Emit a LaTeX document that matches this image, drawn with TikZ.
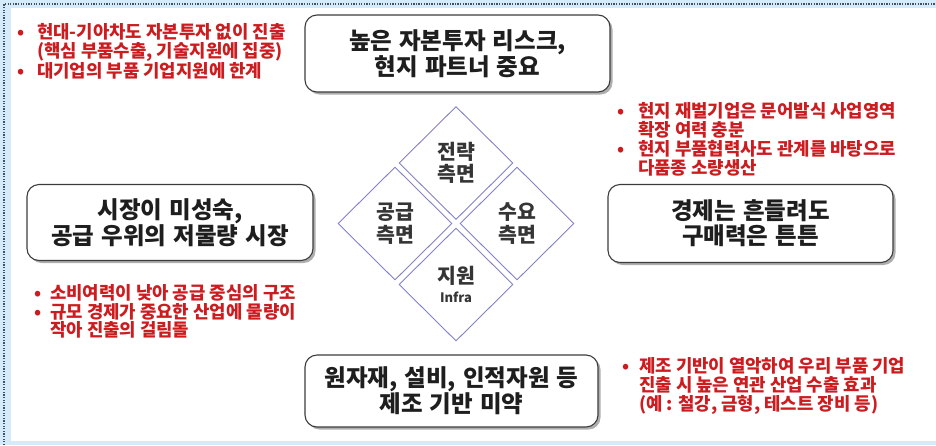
\documentclass[tikz,border=0pt]{standalone}
\usepackage{fontspec}
\setmainfont{Noto Sans CJK KR}
\usetikzlibrary{shapes.geometric,shadows}
\definecolor{bgblue}{RGB}{212,235,251}
\definecolor{redtext}{RGB}{205,28,32}
\definecolor{boxline}{RGB}{60,60,60}
\definecolor{boxtext}{RGB}{30,30,30}
\definecolor{diacol}{RGB}{130,130,200}
\definecolor{dottcol}{RGB}{70,80,90}
\newcommand\bulx[1]{\makebox[#1][l]{•}}
\newcommand\widesp{\spaceskip=0.3em plus 0.1em\relax}
\tikzset{
  mainbox/.style={draw=boxline, line width=1.1pt, rounded corners=12pt, fill=white,
    drop shadow={shadow xshift=2.5pt, shadow yshift=-2.5pt, opacity=0.45, fill=black!70},
    align=center, inner sep=0pt, text=boxtext,
    font=\bfseries\fontsize{23.5}{25}\selectfont\widesp},
  diabox/.style={diamond, draw=diacol, line width=0.9pt, minimum width=114pt,
    minimum height=113pt, inner sep=0pt, align=center, text=boxtext!90,
    font=\bfseries\fontsize{20.5}{22.5}\selectfont},
  redblock/.style={anchor=west, align=left, inner sep=0pt, text=redtext,
    font=\bfseries\fontsize{17.8}{18.8}\selectfont},
  dotline/.style={draw=dottcol, line width=1.3pt, dash pattern=on 1.3pt off 1.3pt}
}
\begin{document}
\begin{tikzpicture}[x=1pt,y=-1pt]
\useasboundingbox (0,0) rectangle (936,445);
\fill[bgblue] (0,0) rectangle (936,445);
\fill[white] (11,8) rectangle (936,441);
\coordinate (d0) at (4,445);
\coordinate (d1) at (4,4);
\coordinate (d2) at (936,4);
\draw[dotline] (d0) -- (d1) -- (d2);

% main boxes
\node[mainbox, minimum width=305pt, minimum height=77pt] (risk) at (457.5,53.5)
  {높은 자본투자 리스크,\\현지 파트너 중요};
\node[mainbox, minimum width=286pt, minimum height=76pt] (market) at (170,222.5)
  {시장이 미성숙,\\공급 우위의 저물량 시장};
\node[mainbox, minimum width=285pt, minimum height=78pt] (economy) at (750.5,223.5)
  {경제는 흔들려도\\구매력은 튼튼};
\node[mainbox, minimum width=293pt, minimum height=72pt] (base) at (451.5,391)
  {원자재, 설비, 인적자원 등\\제조 기반 미약};

% diamonds
\node[diabox] (strategy) at (456,163) {전략\\측면};
\node[diabox] (supply) at (395,223.5) {공급\\측면};
\node[diabox] (demand) at (517,223.5) {수요\\측면};
\node[diabox] (support) at (456,284.5) {지원\\[-3pt]{\fontsize{13}{14}\selectfont Infra}};

% red notes
\node[redblock] (note1) at (17,51.7)
  {\bulx{20pt}현대-기아차도 자본투자 없이 진출\\
   \hspace*{20pt}(핵심 부품수출, 기술지원에 집중)\\
   \bulx{20pt}대기업의 부품 기업지원에 한계};
\node[redblock] (note2) at (617,139.5)
  {\bulx{21pt}현지 재벌기업은 문어발식 사업영역\\
   \hspace*{21pt}확장 여력 충분\\
   \bulx{21pt}현지 부품협력사도 관계를 바탕으로\\
   \hspace*{21pt}다품종 소량생산};
\node[redblock] (note3) at (34,311.5)
  {\bulx{16pt}소비여력이 낮아 공급 중심의 구조\\
   \bulx{16pt}규모 경제가 중요한 산업에 물량이\\
   \hspace*{16pt}작아 진출의 걸림돌};
\node[redblock] (note4) at (622,386)
  {\bulx{17pt}제조 기반이 열악하여 우리 부품 기업\\
   \hspace*{17pt}진출 시 높은 연관 산업 수출 효과\\
   \hspace*{17pt}(예 : 철강, 금형, 테스트 장비 등)};
\end{tikzpicture}
\end{document}
